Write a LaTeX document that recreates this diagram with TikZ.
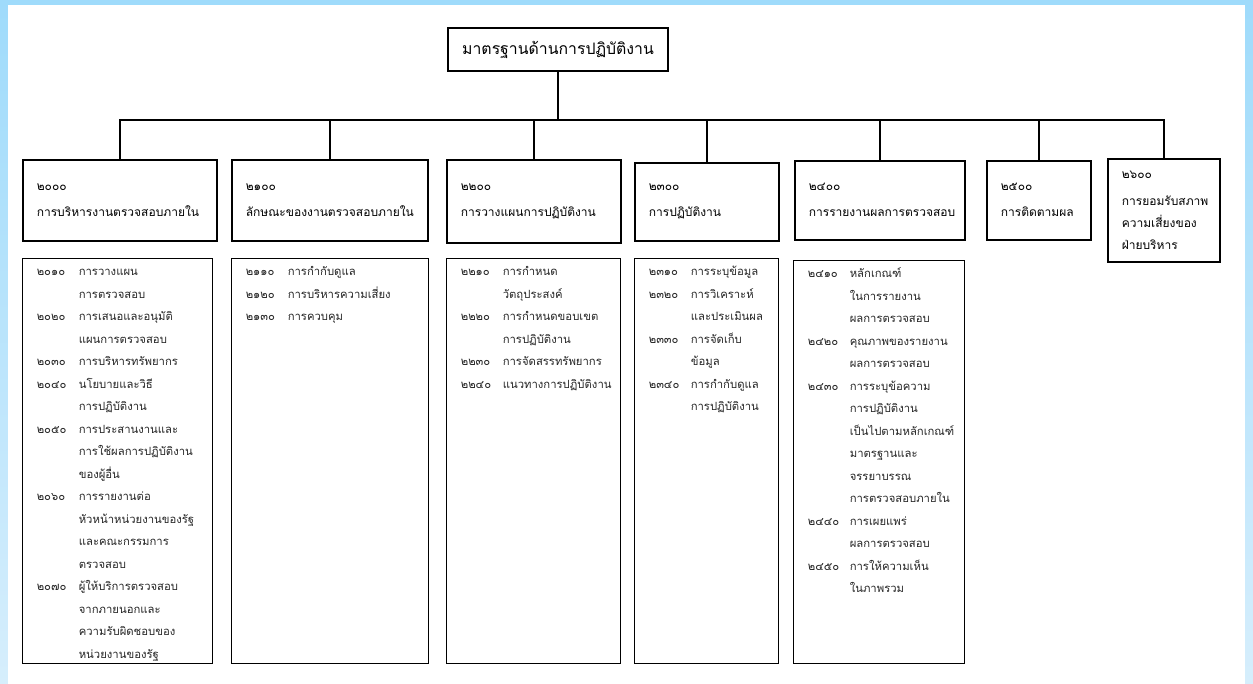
\documentclass[tikz,border=0pt]{standalone}
\usepackage{fontspec}
\newfontfamily\thaifont[Script=Thai]{Loma}
\usetikzlibrary{positioning}
\definecolor{edgeblue}{HTML}{9FDBFB}
\definecolor{edgeblue2}{HTML}{D6EEFC}
\def\rowskip{22.5}

\begin{document}
\begin{tikzpicture}[x=1pt,y=-1pt,line width=1.6pt,
  std/.style={draw=black,fill=white,anchor=north west,inner xsep=14pt,inner ysep=0pt,
    align=left,font=\thaifont\fontsize{12}{26}\selectfont},
  lbox/.style={draw=black,fill=white,anchor=north west,inner sep=0pt,line width=1.4pt},
  items/.style={anchor=north west,inner sep=0pt,text=black!85,
    font=\thaifont\fontsize{11.3}{\rowskip}\selectfont},
  link/.style={line width=2pt}]

\useasboundingbox (0,0) rectangle (1253,684);
\shade[top color=edgeblue,bottom color=edgeblue2] (0,0) rectangle (1253,684);
\fill[white] (8,5) rectangle (1245,684);

\node[std,align=center,inner xsep=0pt,minimum width=220pt,minimum height=43pt,line width=2pt,
  font=\thaifont\fontsize{15.8}{18}\selectfont] (top) at (447,27) {มาตรฐานด้านการปฏิบัติงาน};

% main standards
\node[std,minimum width=194pt,minimum height=81pt,text width=166pt] (s2000) at (22,159)
  {๒๐๐๐\\การบริหารงานตรวจสอบภายใน};
\node[std,minimum width=196pt,minimum height=81pt,text width=168pt] (s2100) at (231,159)
  {๒๑๐๐\\ลักษณะของงานตรวจสอบภายใน};
\node[std,minimum width=174pt,minimum height=83pt,text width=146pt] (s2200) at (446,159)
  {๒๒๐๐\\การวางแผนการปฏิบัติงาน};
\node[std,minimum width=144pt,minimum height=78pt,text width=116pt] (s2300) at (634,162)
  {๒๓๐๐\\การปฏิบัติงาน};
\node[std,minimum width=170pt,minimum height=79pt,text width=142pt] (s2400) at (794,160)
  {๒๔๐๐\\การรายงานผลการตรวจสอบ};
\node[std,minimum width=104pt,minimum height=79pt,text width=76pt] (s2500) at (986,160)
  {๒๕๐๐\\การติดตามผล};
\node[std,minimum width=112pt,minimum height=103pt,text width=84pt,
  font=\thaifont\fontsize{12}{22}\selectfont] (s2600) at (1107,158)
  {๒๖๐๐\\[5pt]การยอมรับสภาพ\\ความเสี่ยงของ\\ฝ่ายบริหาร};

\coordinate (bar) at (557,120);
\draw[link] (top.south) -- (top.south |- bar);
\draw[link] (s2000.north) |- (bar) -| (s2600.north);
\foreach \s in {2100,2200,2300,2400,2500}
  \draw[link] (s\s.north) -- (s\s.north |- bar);

% sub standards
\node[lbox,minimum width=190pt,minimum height=405pt] (d2000) at (22,258) {};
\node[items] (t2000) at ([xshift=14pt,yshift=-1pt]d2000.north west) {\begin{tabular}{@{}p{42pt}@{}l@{}}
๒๐๑๐ & การวางแผน\\
 & การตรวจสอบ\\
๒๐๒๐ & การเสนอและอนุมัติ\\
 & แผนการตรวจสอบ\\
๒๐๓๐ & การบริหารทรัพยากร\\
๒๐๔๐ & นโยบายและวิธี\\
 & การปฏิบัติงาน\\
๒๐๕๐ & การประสานงานและ\\
 & การใช้ผลการปฏิบัติงาน\\
 & ของผู้อื่น\\
๒๐๖๐ & การรายงานต่อ\\
 & หัวหน้าหน่วยงานของรัฐ\\
 & และคณะกรรมการ\\
 & ตรวจสอบ\\
๒๐๗๐ & ผู้ให้บริการตรวจสอบ\\
 & จากภายนอกและ\\
 & ความรับผิดชอบของ\\
 & หน่วยงานของรัฐ
\end{tabular}};

\node[lbox,minimum width=197pt,minimum height=405pt] (d2100) at (231,258) {};
\node[items] (t2100) at ([xshift=14pt,yshift=-1pt]d2100.north west) {\begin{tabular}{@{}p{42pt}@{}l@{}}
๒๑๑๐ & การกำกับดูแล\\
๒๑๒๐ & การบริหารความเสี่ยง\\
๒๑๓๐ & การควบคุม
\end{tabular}};

\node[lbox,minimum width=174pt,minimum height=405pt] (d2200) at (446,258) {};
\node[items] (t2200) at ([xshift=14pt,yshift=-1pt]d2200.north west) {\begin{tabular}{@{}p{42pt}@{}l@{}}
๒๒๑๐ & การกำหนด\\
 & วัตถุประสงค์\\
๒๒๒๐ & การกำหนดขอบเขต\\
 & การปฏิบัติงาน\\
๒๒๓๐ & การจัดสรรทรัพยากร\\
๒๒๔๐ & แนวทางการปฏิบัติงาน
\end{tabular}};

\node[lbox,minimum width=144pt,minimum height=405pt] (d2300) at (634,258) {};
\node[items] (t2300) at ([xshift=14pt,yshift=-1pt]d2300.north west) {\begin{tabular}{@{}p{42pt}@{}l@{}}
๒๓๑๐ & การระบุข้อมูล\\
๒๓๒๐ & การวิเคราะห์\\
 & และประเมินผล\\
๒๓๓๐ & การจัดเก็บ\\
 & ข้อมูล\\
๒๓๔๐ & การกำกับดูแล\\
 & การปฏิบัติงาน
\end{tabular}};

\node[lbox,minimum width=171pt,minimum height=403pt] (d2400) at (793,260) {};
\node[items] (t2400) at ([xshift=14pt,yshift=-1pt]d2400.north west) {\begin{tabular}{@{}p{42pt}@{}l@{}}
๒๔๑๐ & หลักเกณฑ์\\
 & ในการรายงาน\\
 & ผลการตรวจสอบ\\
๒๔๒๐ & คุณภาพของรายงาน\\
 & ผลการตรวจสอบ\\
๒๔๓๐ & การระบุข้อความ\\
 & การปฏิบัติงาน\\
 & เป็นไปตามหลักเกณฑ์\\
 & มาตรฐานและ\\
 & จรรยาบรรณ\\
 & การตรวจสอบภายใน\\
๒๔๔๐ & การเผยแพร่\\
 & ผลการตรวจสอบ\\
๒๔๕๐ & การให้ความเห็น\\
 & ในภาพรวม
\end{tabular}};
\end{tikzpicture}
\end{document}
